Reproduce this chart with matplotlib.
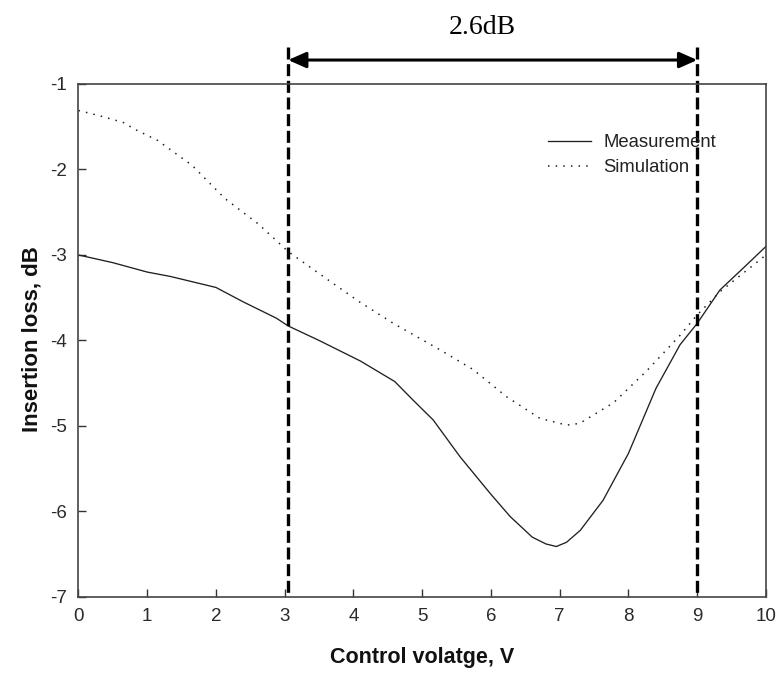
import matplotlib
matplotlib.use("Agg")
import matplotlib.pyplot as plt

# ---- data ----
meas_x = [0, 0.5, 1.0, 1.33, 2.0, 2.4, 2.88, 3.05, 3.5, 4.1, 4.6, 4.87, 5.16, 5.55,
          6.0, 6.28, 6.6, 6.8, 6.95, 7.1, 7.3, 7.63, 8.0, 8.4, 8.75, 9.0, 9.33, 9.7, 10]
meas_y = [-3.0, -3.09, -3.2, -3.25, -3.38, -3.55, -3.74, -3.83, -4.0, -4.24, -4.48, -4.70, -4.93, -5.36,
          -5.8, -6.06, -6.3, -6.38, -6.41, -6.36, -6.22, -5.87, -5.32, -4.56, -4.05, -3.80, -3.41, -3.13, -2.9]

sim_x = [0, 0.3, 0.65, 0.82, 1.15, 1.65, 2.13, 2.62, 3.05, 3.61, 4.09, 4.58, 5.26,
         5.74, 6.23, 6.71, 7.1, 7.29, 7.78, 8.26, 8.75, 9.0, 9.33, 9.72, 10]
sim_y = [-1.31, -1.37, -1.45, -1.53, -1.66, -1.95, -2.34, -2.64, -2.96, -3.28, -3.55, -3.80, -4.11,
         -4.34, -4.66, -4.91, -4.99, -4.97, -4.73, -4.36, -3.94, -3.70, -3.43, -3.18, -3.0]

x_ticks = [0, 1, 2, 3, 4, 5, 6, 7, 8, 9, 10]
y_ticks = [-7, -6, -5, -4, -3, -2, -1]
marker_lines = [3.05, 9.0]
span_label = "2.6dB"

plt.rcParams['font.family'] = ['Liberation Sans', 'DejaVu Sans']
plt.rcParams['axes.unicode_minus'] = False

fig = plt.figure(figsize=(7.77, 6.75), dpi=100)
ax = fig.add_axes([0.101, 0.1156, 0.8848, 0.760])

ax.plot(meas_x, meas_y, color='#202020', lw=0.95, label='Measurement')
ax.plot(sim_x, sim_y, color='#202020', lw=1.1, linestyle=(0, (1, 4)), label='Simulation')

ax.set_xlim(0, 10)
ax.set_ylim(-7, -1)
ax.set_xticks(x_ticks)
ax.set_yticks(y_ticks)
ax.tick_params(direction='in', length=6, width=1, color='#333333',
               labelsize=13.5, labelcolor='#2a2a2a', top=False, right=False)
ax.tick_params(axis='x', pad=8)
ax.tick_params(axis='y', pad=8)
for s in ax.spines.values():
    s.set_color('#444444')
    s.set_linewidth(1.2)

ax.set_xlabel('Control volatge, V', fontsize=15.5, fontweight='bold', color='#111111')
ax.set_ylabel('Insertion loss, dB', fontsize=16, fontweight='bold', color='#111111')
ax.xaxis.set_label_coords(0.5, -0.098)
ax.yaxis.set_label_coords(-0.052, 0.502)

# vertical dashed markers extending above the axes (pattern starts at the top)
y_top = -0.567
for xv in marker_lines:
    ax.plot([xv, xv], [y_top, -7], color='black', lw=2.4, dashes=(3.6, 1.4), clip_on=False)

# double-headed arrow
ay = -0.72
ax.annotate('', xy=(marker_lines[1], ay), xytext=(marker_lines[0], ay),
            arrowprops=dict(arrowstyle='<|-|>,head_length=0.54,head_width=0.24',
                            mutation_scale=20, lw=2.2, color='black',
                            shrinkA=0, shrinkB=0),
            annotation_clip=False)
ax.text(5.88, -0.345, span_label, fontsize=20, family='Liberation Serif',
        ha='center', va='center', clip_on=False)

leg = ax.legend(loc='upper left', bbox_to_anchor=(0.683, 0.902), frameon=False,
                fontsize=13.3, handlelength=2.3, handletextpad=0.7,
                labelspacing=0.44, borderpad=0, borderaxespad=0)
for t in leg.get_texts():
    t.set_color('#222222')

fig.savefig('out.png', dpi=100)
